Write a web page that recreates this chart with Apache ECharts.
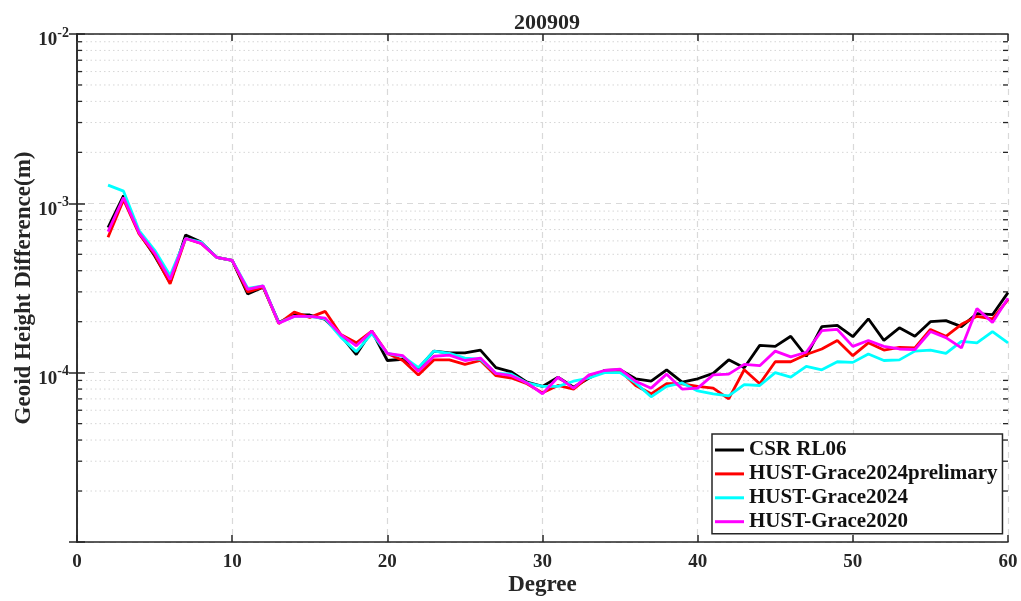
<!DOCTYPE html>
<html>
<head>
<meta charset="utf-8">
<script src="https://cdn.jsdelivr.net/npm/echarts@6/dist/echarts.min.js"></script>
<style>html,body{margin:0;padding:0;background:#fff;}#c{width:1021px;height:601px;}</style>
</head>
<body>
<div id="c"></div>
<script>
const degrees = [2,3,4,5,6,7,8,9,10,11,12,13,14,15,16,17,18,19,20,21,22,23,24,25,26,27,28,29,30,31,32,33,34,35,36,37,38,39,40,41,42,43,44,45,46,47,48,49,50,51,52,53,54,55,56,57,58,59,60];
const csrRL06 = [7.2e-4,1.11e-3,6.7e-4,4.9e-4,3.4e-4,6.5e-4,5.9e-4,4.8e-4,4.6e-4,2.92e-4,3.2e-4,1.98e-4,2.19e-4,2.19e-4,2.06e-4,1.66e-4,1.28e-4,1.76e-4,1.18e-4,1.2e-4,1.06e-4,1.34e-4,1.31e-4,1.31e-4,1.36e-4,1.07e-4,1.01e-4,8.8e-5,8.3e-5,9.4e-5,8.2e-5,9.3e-5,1.03e-4,1.04e-4,9.2e-5,8.9e-5,1.04e-4,8.8e-5,9.2e-5,9.9e-5,1.19e-4,1.07e-4,1.45e-4,1.43e-4,1.64e-4,1.25e-4,1.87e-4,1.9e-4,1.63e-4,2.08e-4,1.55e-4,1.84e-4,1.64e-4,2.0e-4,2.03e-4,1.87e-4,2.23e-4,2.2e-4,2.97e-4];
const hust2024pre = [6.3e-4,1.05e-3,6.6e-4,5.0e-4,3.35e-4,6.2e-4,5.8e-4,4.8e-4,4.6e-4,3.0e-4,3.2e-4,1.95e-4,2.28e-4,2.12e-4,2.3e-4,1.68e-4,1.5e-4,1.76e-4,1.3e-4,1.18e-4,9.7e-5,1.19e-4,1.19e-4,1.12e-4,1.18e-4,9.6e-5,9.3e-5,8.6e-5,7.6e-5,8.4e-5,8.0e-5,9.5e-5,1.01e-4,1.03e-4,8.4e-5,7.5e-5,8.6e-5,8.6e-5,8.3e-5,8.1e-5,7.0e-5,1.04e-4,8.6e-5,1.16e-4,1.16e-4,1.28e-4,1.38e-4,1.55e-4,1.26e-4,1.5e-4,1.36e-4,1.41e-4,1.4e-4,1.8e-4,1.64e-4,1.93e-4,2.15e-4,2.08e-4,2.7e-4];
const hust2024 = [1.28e-3,1.18e-3,6.9e-4,5.3e-4,3.75e-4,6.2e-4,5.9e-4,4.8e-4,4.6e-4,3.15e-4,3.25e-4,1.97e-4,2.15e-4,2.15e-4,2.08e-4,1.62e-4,1.33e-4,1.7e-4,1.3e-4,1.25e-4,1.07e-4,1.34e-4,1.3e-4,1.22e-4,1.2e-4,9.9e-5,9.8e-5,8.7e-5,8.3e-5,8.3e-5,8.9e-5,9.3e-5,1.0e-4,1.0e-4,8.7e-5,7.2e-5,8.3e-5,8.7e-5,7.8e-5,7.5e-5,7.3e-5,8.5e-5,8.4e-5,1.0e-4,9.4e-5,1.09e-4,1.04e-4,1.16e-4,1.15e-4,1.29e-4,1.18e-4,1.19e-4,1.34e-4,1.36e-4,1.3e-4,1.53e-4,1.5e-4,1.75e-4,1.5e-4];
const hust2020 = [6.8e-4,1.08e-3,6.7e-4,5.1e-4,3.55e-4,6.2e-4,5.8e-4,4.8e-4,4.6e-4,3.1e-4,3.25e-4,1.96e-4,2.15e-4,2.15e-4,2.1e-4,1.68e-4,1.44e-4,1.76e-4,1.3e-4,1.26e-4,1.02e-4,1.25e-4,1.27e-4,1.18e-4,1.22e-4,9.9e-5,9.6e-5,8.7e-5,7.5e-5,9.4e-5,8.1e-5,9.7e-5,1.03e-4,1.05e-4,8.9e-5,8.1e-5,9.8e-5,8.0e-5,8.1e-5,9.7e-5,9.8e-5,1.12e-4,1.1e-4,1.34e-4,1.24e-4,1.32e-4,1.77e-4,1.8e-4,1.43e-4,1.55e-4,1.43e-4,1.38e-4,1.37e-4,1.75e-4,1.61e-4,1.4e-4,2.39e-4,1.98e-4,2.75e-4];
const seriesNames = ['CSR RL06','HUST-Grace2024prelimary','HUST-Grace2024','HUST-Grace2020'];
const seriesColors = ['#000000','#ff0000','#00ffff','#ff00ff'];
const minorYTicks = [2e-5,3e-5,4e-5,5e-5,6e-5,7e-5,8e-5,9e-5,2e-4,3e-4,4e-4,5e-4,6e-4,7e-4,8e-4,9e-4,2e-3,3e-3,4e-3,5e-3,6e-3,7e-3,8e-3,9e-3];
const titleText = '200909';

const FONT = 'Liberation Serif';
const chart = echarts.init(document.getElementById('c'), null, {renderer: 'canvas'});
const dataSets = [csrRL06, hust2024pre, hust2024, hust2020];

const lineSeries = dataSets.map((arr, i) => ({
  name: seriesNames[i],
  type: 'line',
  data: degrees.map((d, k) => [d, arr[k]]),
  showSymbol: false,
  symbol: 'none',
  lineStyle: {color: seriesColors[i], width: 2.8},
  itemStyle: {color: seriesColors[i]},
  z: 3 + i,
  animation: false
}));

const gridSeries = {
  type: 'custom',
  silent: true,
  z: 1,
  animation: false,
  data: minorYTicks.map(v => [0, v]),
  renderItem: function (params, api) {
    const v = api.value(1);
    const p0 = api.coord([0, v]);
    const p1 = api.coord([60, v]);
    return {
      type: 'group',
      children: [
        {type: 'line', shape: {x1: p0[0], y1: p0[1], x2: p1[0], y2: p1[1]},
         style: {stroke: '#d6d6d6', lineWidth: 1, lineDash: [1.5, 3]}},
        {type: 'line', shape: {x1: p0[0], y1: p0[1], x2: p0[0] + 5, y2: p0[1]},
         style: {stroke: '#262626', lineWidth: 1.3}},
        {type: 'line', shape: {x1: p1[0] - 5, y1: p1[1], x2: p1[0], y2: p1[1]},
         style: {stroke: '#262626', lineWidth: 1.3}}
      ]
    };
  }
};

function yLabel(v) {
  const e = Math.round(Math.log10(v));
  if (e < -4) return '';
  return '{b|10}{s|' + e + '}';
}

chart.setOption({
  backgroundColor: '#ffffff',
  animation: false,
  title: {
    text: titleText, left: 542, top: 7, textAlign: 'center',
    textStyle: {fontFamily: FONT, fontWeight: 'bold', fontSize: 22, color: '#262626'}
  },
  grid: {left: 77, top: 34, right: 13, bottom: 59, containLabel: false, outerBoundsMode: 'none'},
  legend: {
    data: seriesNames,
    orient: 'vertical',
    left: 712, top: 434,
    backgroundColor: '#ffffff',
    borderColor: '#262626', borderWidth: 1.5,
    padding: [5, 5, 1, 3],
    itemWidth: 29, itemHeight: 3,
    itemGap: 1.9,
    icon: 'rect',
    textStyle: {fontFamily: FONT, fontWeight: 'bold', fontSize: 21, color: '#111', lineHeight: 22},
    selectedMode: false
  },
  xAxis: [{
    type: 'value', min: 0, max: 60, interval: 10,
    name: 'Degree', nameLocation: 'middle', nameGap: 32, nameMoveOverlap: false,
    nameTextStyle: {fontFamily: FONT, fontWeight: 'bold', fontSize: 23, color: '#262626'},
    axisLine: {show: true, lineStyle: {color: '#262626', width: 1.5}},
    axisTick: {show: true, inside: true, length: 7, lineStyle: {color: '#262626', width: 1.5}},
    axisLabel: {fontFamily: FONT, fontWeight: 'bold', fontSize: 19, color: '#262626', margin: 11},
    splitLine: {show: true, lineStyle: {color: '#d9d9d9', type: [6, 5], width: 1.2}}
  }, {
    type: 'value', min: 0, max: 60, interval: 10, position: 'top',
    axisLine: {show: true, onZero: false, lineStyle: {color: '#262626', width: 1.5}},
    axisTick: {show: true, inside: true, length: 7, lineStyle: {color: '#262626', width: 1.5}},
    axisLabel: {show: false}, splitLine: {show: false}
  }],
  yAxis: [{
    type: 'log', logBase: 10, min: 1e-5, max: 1e-2,
    name: 'Geoid Height Difference(m)', nameLocation: 'middle', nameGap: 41, nameMoveOverlap: false,
    nameTextStyle: {fontFamily: FONT, fontWeight: 'bold', fontSize: 23, color: '#262626'},
    axisLine: {show: true, lineStyle: {color: '#262626', width: 1.5}},
    axisTick: {show: true, inside: true, length: 8, lineStyle: {color: '#262626', width: 1.5}},
    axisLabel: {
      formatter: yLabel, margin: 8, padding: [8, 0, 0, 0],
      rich: {
        b: {fontFamily: FONT, fontWeight: 'bold', fontSize: 19, color: '#262626', lineHeight: 24, verticalAlign: 'bottom'},
        s: {fontFamily: FONT, fontWeight: 'bold', fontSize: 14, color: '#262626', verticalAlign: 'top', lineHeight: 24, padding: [0, 0, 10, 0]}
      }
    },
    splitLine: {show: true, lineStyle: {color: '#d9d9d9', type: [6, 5], width: 1.2}}
  }, {
    type: 'log', logBase: 10, min: 1e-5, max: 1e-2, position: 'right',
    axisLine: {show: true, lineStyle: {color: '#262626', width: 1.5}},
    axisTick: {show: true, inside: true, length: 8, lineStyle: {color: '#262626', width: 1.5}},
    axisLabel: {show: false}, splitLine: {show: false}
  }],
  series: [gridSeries].concat(lineSeries)
});
</script>
</body>
</html>
